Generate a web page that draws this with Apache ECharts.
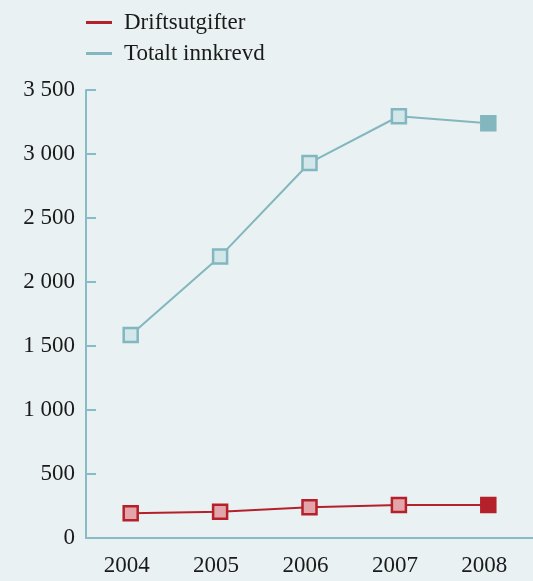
<!DOCTYPE html>
<html><head><meta charset="utf-8">
<script src="https://cdn.jsdelivr.net/npm/echarts@6/dist/echarts.min.js"></script>
<style>html,body{margin:0;padding:0;background:#e9f1f3;}#c{width:533px;height:581px;}</style>
</head><body><div id="c"></div>
<script>
const categories = ['2004','2005','2006','2007','2008'];
const driftsutgifter = [193, 205, 240, 258, 258];
const totaltInnkrevd = [1585, 2200, 2930, 3295, 3240];
const seriesNames = ['Driftsutgifter', 'Totalt innkrevd'];
const yTicks = [0, 500, 1000, 1500, 2000, 2500, 3000, 3500];

const FONT = 'Liberation Serif';
const red = '#b5212a', redFill = '#e3a5a9';
const teal = '#82b7bf', tealFill = '#d3e6ea';

function pts(vals, fill, line) {
  return vals.map((v, i) => i === vals.length - 1
    ? { value: v, itemStyle: { color: line, borderColor: line } }
    : { value: v, itemStyle: { color: fill, borderColor: line } });
}

const chart = echarts.init(document.getElementById('c'));
chart.setOption({
  backgroundColor: '#e9f1f3',
  animation: false,
  legend: {
    orient: 'vertical', left: 81, top: 6, itemGap: 8,
    itemWidth: 26, itemHeight: 3,
    textStyle: { fontFamily: FONT, fontSize: 23, color: '#1a1a1a', padding: [0,0,0,7] },
    data: [
      { name: seriesNames[0], icon: 'rect', itemStyle: { color: red } },
      { name: seriesNames[1], icon: 'rect', itemStyle: { color: teal } }
    ]
  },
  grid: { left: 86, right: -3, top: 90, bottom: 43, containLabel: false },
  xAxis: {
    type: 'category', data: categories, boundaryGap: true,
    axisLine: { lineStyle: { color: '#86bcc6', width: 2 } },
    axisTick: { inside: true, length: 10, lineStyle: { color: '#86bcc6', width: 2 } },
    axisLabel: { fontFamily: FONT, fontSize: 23, color: '#1a1a1a', margin: 16, padding: [0, 8, 0, 0] }
  },
  yAxis: {
    type: 'value', min: yTicks[0], max: yTicks[yTicks.length-1], interval: 500,
    splitLine: { show: false },
    axisLine: { show: true, lineStyle: { color: '#86bcc6', width: 2 } },
    axisTick: { show: true, inside: true, length: 10, lineStyle: { color: '#86bcc6', width: 2 } },
    axisLabel: { fontFamily: FONT, fontSize: 23, color: '#1a1a1a', margin: 11,
      formatter: v => String(v).replace(/\B(?=(\d{3})+(?!\d))/g, ' ') }
  },
  series: [
    { name: seriesNames[0], type: 'line', data: pts(driftsutgifter, redFill, red),
      symbol: 'rect', symbolSize: 14, lineStyle: { color: red, width: 2 },
      itemStyle: { borderWidth: 2.5 }, z: 3 },
    { name: seriesNames[1], type: 'line', data: pts(totaltInnkrevd, tealFill, teal),
      symbol: 'rect', symbolSize: 14, lineStyle: { color: teal, width: 2 },
      itemStyle: { borderWidth: 2.5 }, z: 2 }
  ]
});
</script></body></html>
